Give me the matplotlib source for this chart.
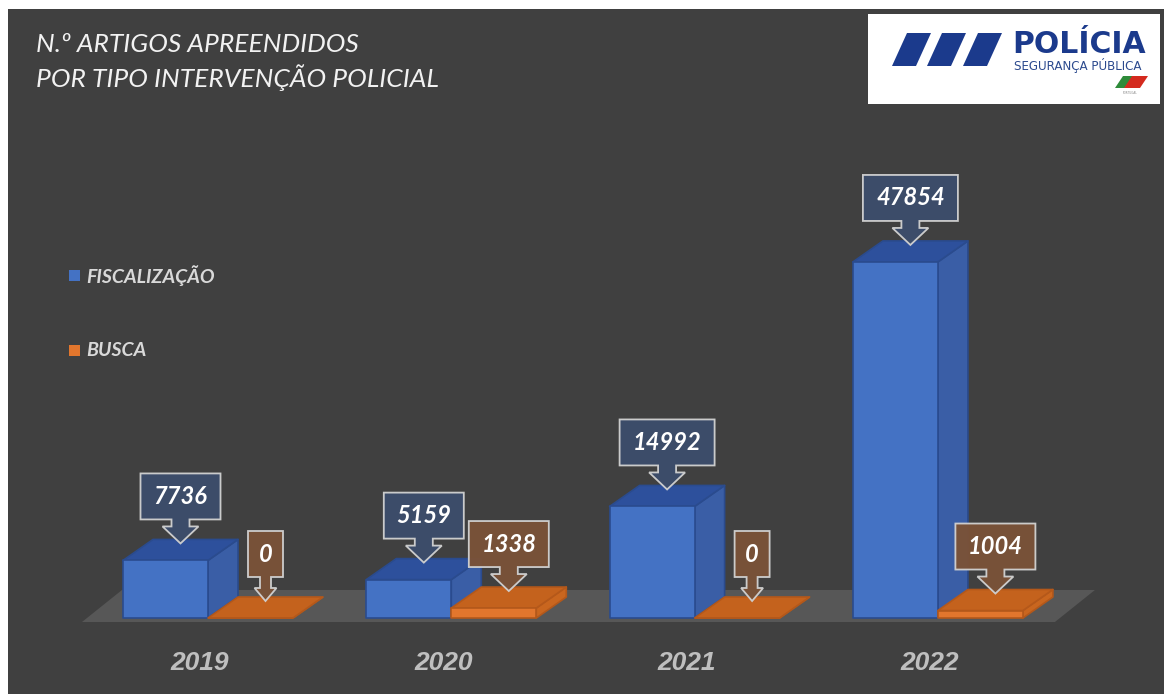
import matplotlib.pyplot as plt
from matplotlib.patches import Polygon, Rectangle

# dados
years = ['2019', '2020', '2021', '2022']
fiscalizacao = [7736, 5159, 14992, 47854]
busca = [0, 1338, 0, 1004]
series_names = ['FISCALIZAÇÃO', 'BUSCA']

W, H = 1164, 694
BG = '#404040'
PX_CAT = 243.3      # pixels por categoria
VAL_PX = 134.4      # valor por pixel
X0_PX, Y0_PX = 208, 618
BAR_W = 85 / PX_CAT
DEPTH = (30, 21)    # profundidade 3D em px
FONT = ['Lato', 'DejaVu Sans']

BLUE = dict(front='#4472c4', side='#3a5ea6', top='#2d509c', edge='#2a4b8e', box='#3c4d6b')
ORANGE = dict(front='#e2762d', side='#c9661f', top='#c4621d', edge='#b4581a', box='#7a5238')


def dx(p):
    return p / PX_CAT


def dy(p):
    return p * VAL_PX


def fx(p):
    return p / W


def fy(p):
    return 1 - p / H


fig = plt.figure(figsize=(W / 100, H / 100), dpi=100, facecolor='white')
left, top = 8, 9
ax = fig.add_axes([left / W, 0, (W - left) / W, (H - top) / H])
ax.set_facecolor(BG)
ax.set_xlim((left - X0_PX) / PX_CAT, (W - X0_PX) / PX_CAT)
ax.set_ylim(-(H - Y0_PX) * VAL_PX, (Y0_PX - top) * VAL_PX)
ax.set_xticks([])
ax.set_yticks([])
for s in ax.spines.values():
    s.set_visible(False)

# chão
n = len(years)
fl0, fl1 = -0.518, n - 1 + 0.481
fy0 = dy(-4)
ax.add_patch(Polygon([(fl0, fy0), (fl1, fy0), (fl1 + dx(40), fy0 + dy(32)), (fl0 + dx(40), fy0 + dy(32))],
                     closed=True, facecolor='#575757', edgecolor='none', zorder=1))


def box3d(x0, w, v, c, z):
    ddx, ddy = dx(DEPTH[0]), dy(DEPTH[1])
    x1 = x0 + w
    faces = [
        ([(x1, 0), (x1 + ddx, ddy), (x1 + ddx, v + ddy), (x1, v)], c['side']),
        ([(x0, v), (x1, v), (x1 + ddx, v + ddy), (x0 + ddx, v + ddy)], c['top']),
        ([(x0, 0), (x1, 0), (x1, v), (x0, v)], c['front']),
    ]
    for pts, fc in faces:
        ax.add_patch(Polygon(pts, closed=True, facecolor=fc, edgecolor=c['edge'],
                             lw=1.2, joinstyle='round', zorder=z))


def callout(xc, v, text, fc):
    k = len(text)
    bw = 20 + 15 * k
    if k == 1:
        head, shaft, hh = 11, 5.5, 13
    else:
        head, shaft, hh = 18, 9, 17
    base, bh = 24, 46
    tx = xc + dx(DEPTH[0] / 2)
    ty = v + dy(17)
    rel = [(0, 0), (head, hh), (shaft, hh), (shaft, base), (bw / 2, base), (bw / 2, base + bh),
           (-bw / 2, base + bh), (-bw / 2, base), (-shaft, base), (-shaft, hh), (-head, hh)]
    pts = [(tx + dx(a), ty + dy(b)) for a, b in rel]
    ax.add_patch(Polygon(pts, closed=True, facecolor=fc, edgecolor='#d0d0d0', lw=1.3,
                         alpha=0.97, zorder=10))
    ax.text(tx, ty + dy(base + bh / 2), text, ha='center', va='center', color='white',
            fontsize=17, fontweight='bold', fontstyle='italic', family=FONT, zorder=11)


for i, (yr, vf, vb) in enumerate(zip(years, fiscalizacao, busca)):
    box3d(i - BAR_W, BAR_W, vf, BLUE, 3 + i)
    box3d(i, BAR_W, vb, ORANGE, 3.5 + i)

for i, (vf, vb) in enumerate(zip(fiscalizacao, busca)):
    callout(i - BAR_W / 2, vf, f'{vf}', BLUE['box'])
    callout(i + BAR_W / 2, vb, f'{vb}', ORANGE['box'])

for i, yr in enumerate(years):
    ax.text(i - dx(8), dy(-44.5), yr, ha='center', va='center', color='#bfbfbf',
            fontsize=19, fontweight='bold', fontstyle='italic', family=['Liberation Sans', 'DejaVu Sans'])

# título
fig.text(fx(36), fy(33), 'N.º ARTIGOS APREENDIDOS\nPOR TIPO INTERVENÇÃO POLICIAL', ha='left', va='top',
         color='#f2f2f2', fontsize=19, fontstyle='italic', family=FONT, linespacing=1.38)

# legenda
for name, c, py in zip(series_names, [BLUE['front'], ORANGE['front']], [275.5, 350]):
    fig.add_artist(Rectangle((fx(69), fy(py + 5.5)), fx(11), 11 / H, transform=fig.transFigure,
                             facecolor=c, edgecolor='none'))
    fig.text(fx(86), fy(py), name, ha='left', va='center', color='#d9d9d9', fontsize=14,
             fontweight='bold', fontstyle='italic', family=FONT)

# logótipo PSP
lg = fig.add_axes([fx(868), fy(104), fx(292), 90 / H])
lg.set_xlim(0, 292)
lg.set_ylim(90, 0)
lg.set_facecolor('white')
lg.set_xticks([])
lg.set_yticks([])
for s in lg.spines.values():
    s.set_visible(False)
NAVY = '#1b3a8c'
for x0 in [24, 59, 95]:
    lg.add_patch(Polygon([(x0, 52), (x0 + 24, 52), (x0 + 39, 19), (x0 + 15, 19)], closed=True,
                         facecolor=NAVY, edgecolor='none'))
lg.text(144, 39, 'POLÍCIA', ha='left', va='baseline', color=NAVY, fontsize=21.5, fontweight='bold',
        family='DejaVu Sans')
lg.text(146, 56, 'SEGURANÇA PÚBLICA', ha='left', va='baseline', color='#2c4a8e', fontsize=8.6,
        family='DejaVu Sans')
lg.add_patch(Polygon([(247, 74), (257, 74), (265, 62), (255, 62)], closed=True, facecolor='#2e8b3a', edgecolor='none'))
lg.add_patch(Polygon([(256, 74), (272, 74), (280, 62), (264, 62)], closed=True, facecolor='#d42a1e', edgecolor='none'))
lg.text(262, 79, 'PORTUGAL', ha='center', va='center', color='#888888', fontsize=2, family='DejaVu Sans')

fig.savefig('out.png', dpi=100, facecolor=fig.get_facecolor())
